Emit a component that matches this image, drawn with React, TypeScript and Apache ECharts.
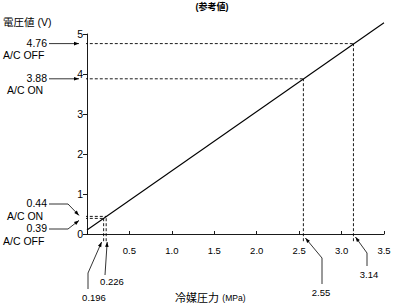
import React, { useEffect, useRef } from "react";
import * as echarts from "echarts";

const lineX = [0, 3.5];
const lineY = [0.1, 5.28];
const refPressure = [0.196, 0.226, 2.55, 3.14];
const refVoltage = [0.39, 0.44, 3.88, 4.76];
const refState = ["A/C OFF", "A/C ON", "A/C ON", "A/C OFF"];
const xTickLabels = ["", "0.5", "1.0", "1.5", "2.0", "2.5", "3.0", "3.5"];

const FONT = "'Liberation Sans', Arial, sans-serif";
const CJK = "'Liberation Sans', 'Noto Sans CJK JP', sans-serif";

function arrowHead(tip: number[], from: number[], len = 5, w = 1.8) {
  const dx = tip[0] - from[0];
  const dy = tip[1] - from[1];
  const l = Math.hypot(dx, dy) || 1;
  const ux = dx / l, uy = dy / l;
  const bx = tip[0] - ux * len, by = tip[1] - uy * len;
  return {
    type: "polygon",
    shape: { points: [tip, [bx - uy * w, by + ux * w], [bx + uy * w, by - ux * w]] },
    style: { fill: "#000" },
    silent: true,
  };
}

function leader(points: number[][]) {
  const els: any[] = [
    { type: "polyline", shape: { points }, style: { stroke: "#000", lineWidth: 0.8, fill: null }, silent: true },
  ];
  els.push(arrowHead(points[points.length - 1], points[points.length - 2]));
  return els;
}

function txt(x: number, y: number, s: string, align = "left", size = 10.5) {
  return {
    type: "text",
    x,
    y,
    style: { text: s, fill: "#000", font: `${size}px ${FONT}`, align, verticalAlign: "middle" },
    silent: true,
  };
}

export default function App() {
  const ref = useRef<HTMLDivElement>(null);
  useEffect(() => {
    if (!ref.current) return;
    const chart = echarts.init(ref.current, null, { renderer: "svg" });
    const dashStyle = { color: "#000", width: 0.9, type: [3, 2] as any };
    const refSeries: any[] = [];
    refPressure.forEach((p, i) => {
      const v = refVoltage[i];
      refSeries.push({
        type: "line",
        data: [[-0.085, v], [p, v]],
        symbol: "none",
        clip: false,
        lineStyle: dashStyle,
        silent: true,
      });
      refSeries.push({
        type: "line",
        data: [[p, -0.18], [p, v]],
        symbol: "none",
        clip: false,
        lineStyle: dashStyle,
        silent: true,
      });
    });
    const option: any = {
      animation: false,
      backgroundColor: "#fff",
      grid: { left: 87, right: 26, top: 34, bottom: 74, containLabel: false },
      xAxis: {
        type: "value",
        min: 0,
        max: 3.5,
        interval: 0.5,
        splitLine: { show: false },
        axisLine: { lineStyle: { color: "#000", width: 0.9 } },
        axisTick: { inside: true, length: 3, lineStyle: { color: "#000", width: 0.9 } },
        axisLabel: {
          color: "#000",
          fontSize: 9.5,
          fontFamily: FONT,
          margin: 11,
          formatter: (v: number) => xTickLabels[Math.round(v / 0.5)] ?? "",
        },
      },
      yAxis: {
        type: "value",
        min: 0,
        max: 5,
        interval: 1,
        splitLine: { show: false },
        axisLine: { show: true, lineStyle: { color: "#000", width: 0.9 } },
        axisTick: { show: true, inside: false, length: 4, lineStyle: { color: "#000", width: 0.9 } },
        axisLabel: { color: "#000", fontSize: 10.5, fontFamily: FONT, margin: 4 },
      },
      series: [
        {
          type: "line",
          data: lineX.map((x, i) => [x, lineY[i]]),
          symbol: "none",
          clip: false,
          lineStyle: { color: "#000", width: 1.1 },
          silent: true,
        },
        ...refSeries,
      ],
    };
    chart.setOption(option);

    const P = (x: number, y: number) => chart.convertToPixel({ gridIndex: 0 }, [x, y]) as number[];
    const [ax, ay] = P(0, 0);
    const g: any[] = [];
    g.push({
      type: "text",
      x: 3,
      y: 22,
      style: { text: "電圧値 (V)", fill: "#000", font: `10.5px ${CJK}`, verticalAlign: "middle" },
      silent: true,
    });
    g.push({
      type: "text",
      x: 212,
      y: 7,
      style: { text: "(参考値)", fill: "#000", font: `bold 9px ${CJK}`, align: "center", verticalAlign: "middle" },
      silent: true,
    });
    g.push({
      type: "text",
      x: 175,
      y: 298,
      style: {
        text: "{a|冷媒圧力} {b|(MPa)}",
        verticalAlign: "middle",
        rich: {
          a: { font: `11px ${CJK}`, fill: "#000" },
          b: { font: `8.5px ${FONT}`, fill: "#000" },
        },
      },
      silent: true,
    });

    [3, 2].forEach((i) => {
      const y = P(0, refVoltage[i])[1];
      g.push(txt(47, y - 1, refVoltage[i].toFixed(2), "right"));
      g.push(txt(i === 3 ? 3 : 7, y + 11.5, refState[i], "left"));
      g.push(...leader([[49, y], [ax - 8, y]]));
    });
    {
      const y44 = P(0, refVoltage[1])[1];
      const y39 = P(0, refVoltage[0])[1];
      g.push(txt(47, 203, refVoltage[1].toFixed(2), "right"));
      g.push(txt(7, 215.5, refState[1], "left"));
      g.push(...leader([[49, 204], [68, 204], [ax - 8, y44 - 1]]));
      g.push(txt(47, 228, refVoltage[0].toFixed(2), "right"));
      g.push(txt(3, 240.5, refState[0], "left"));
      g.push(...leader([[49, 229], [68, 229], [ax - 8, y39 + 2]]));
    }
    {
      const x196 = P(refPressure[0], 0)[0];
      const x226 = P(refPressure[1], 0)[0];
      g.push(...leader([[88, 289], [88, 273], [x196 - 2, ay + 8]]));
      g.push(txt(94, 297, refPressure[0].toFixed(3), "center", 9.5));
      g.push(...leader([[105, 275], [x226 + 1, ay + 8]]));
      g.push(txt(112, 281, refPressure[1].toFixed(3), "center", 9.5));
      const x255 = P(refPressure[2], 0)[0];
      const x314 = P(refPressure[3], 0)[0];
      g.push(...leader([[322, 284], [322, 258], [x255 + 2, ay + 4]]));
      g.push(txt(321, 292, refPressure[2].toFixed(2), "center", 9.5));
      g.push(...leader([[367, 266], [367, 253], [x314 + 2, ay + 3]]));
      g.push(txt(369, 274, refPressure[3].toFixed(2), "center", 9.5));
    }
    chart.setOption({ graphic: g });
    return () => chart.dispose();
  }, []);
  return <div ref={ref} style={{ width: 410, height: 308, position: "absolute", left: 0, top: 0 }} />;
}
